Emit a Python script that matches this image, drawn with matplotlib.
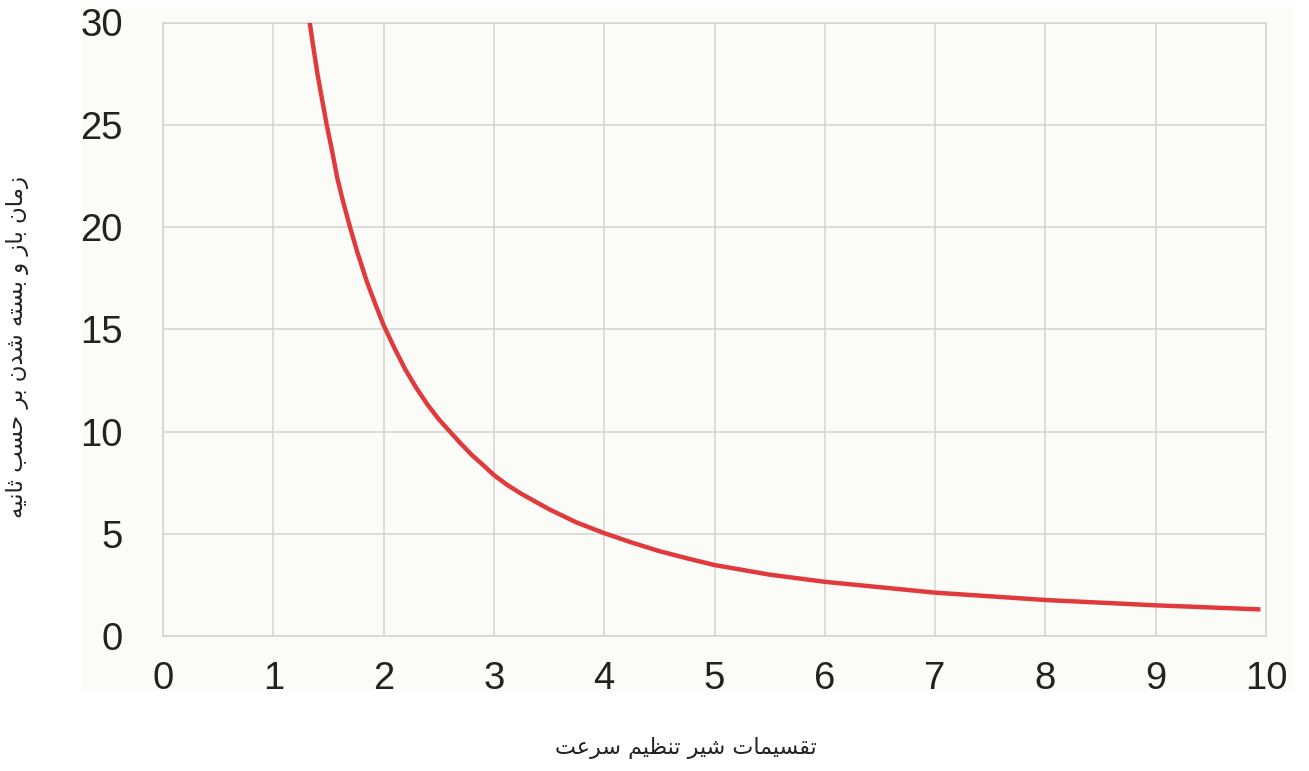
import matplotlib
matplotlib.use("Agg")
import matplotlib.pyplot as plt
from matplotlib.patches import Rectangle

# ---- data ----
x_vals = [1.33, 1.36, 1.40, 1.44, 1.484, 1.53, 1.58, 1.63, 1.695, 1.76, 1.85, 1.92,
          2.0, 2.1, 2.2, 2.3, 2.4, 2.5, 2.6, 2.7, 2.8, 2.9, 3.0, 3.12,
          3.25, 3.5, 3.75, 4.0, 4.25, 4.5, 4.75, 5.0, 5.5, 6.0, 7.0, 8.0, 9.0, 9.95]
y_vals = [30.0, 28.9, 27.5, 26.3, 25.0, 23.8, 22.4, 21.3, 20.0, 18.8, 17.3, 16.3,
          15.2, 14.06, 13.0, 12.1, 11.3, 10.6, 10.0, 9.41, 8.85, 8.37, 7.87, 7.39,
          6.95, 6.2, 5.55, 5.03, 4.57, 4.15, 3.80, 3.47, 3.0, 2.65, 2.12, 1.76, 1.50, 1.30]
x_ticks = [0, 1, 2, 3, 4, 5, 6, 7, 8, 9, 10]
y_ticks = [0, 5, 10, 15, 20, 25, 30]
x_label = "تقسیمات شیر تنظیم سرعت"
y_label = "زمان باز و بسته شدن بر حسب ثانیه"

# ---- minimal Persian shaping (matplotlib has no complex text layout) ----
FORMS = {
    'ا': ('\uFE8D', '\uFE8E', None, None),
    'ب': ('\uFE8F', '\uFE90', '\uFE91', '\uFE92'),
    'ت': ('\uFE95', '\uFE96', '\uFE97', '\uFE98'),
    'ث': ('\uFE99', '\uFE9A', '\uFE9B', '\uFE9C'),
    'ح': ('\uFEA1', '\uFEA2', '\uFEA3', '\uFEA4'),
    'د': ('\uFEA9', '\uFEAA', None, None),
    'ر': ('\uFEAD', '\uFEAE', None, None),
    'ز': ('\uFEAF', '\uFEB0', None, None),
    'س': ('\uFEB1', '\uFEB2', '\uFEB3', '\uFEB4'),
    'ش': ('\uFEB5', '\uFEB6', '\uFEB7', '\uFEB8'),
    'ظ': ('\uFEC5', '\uFEC6', '\uFEC7', '\uFEC8'),
    'ع': ('\uFEC9', '\uFECA', '\uFECB', '\uFECC'),
    'ق': ('\uFED5', '\uFED6', '\uFED7', '\uFED8'),
    'م': ('\uFEE1', '\uFEE2', '\uFEE3', '\uFEE4'),
    'ن': ('\uFEE5', '\uFEE6', '\uFEE7', '\uFEE8'),
    'ه': ('\uFEE9', '\uFEEA', '\uFEEB', '\uFEEC'),
    'و': ('\uFEED', '\uFEEE', None, None),
    'ی': ('\uFBFC', '\uFBFD', '\uFBFE', '\uFBFF'),
}


def shape(text):
    chars = list(text)
    out = []
    for i, c in enumerate(chars):
        if c not in FORMS:
            out.append(c)
            continue
        prev = chars[i - 1] if i > 0 else None
        nxt = chars[i + 1] if i + 1 < len(chars) else None
        jp = prev in FORMS and FORMS[prev][2] is not None
        jn = nxt in FORMS and FORMS[c][2] is not None
        iso, fin, ini, med = FORMS[c]
        if jp and jn:
            out.append(med)
        elif jp:
            out.append(fin)
        elif jn:
            out.append(ini)
        else:
            out.append(iso)
    return ''.join(reversed(out))


W, H = 1309, 771
fig = plt.figure(figsize=(W / 100, H / 100), dpi=100, facecolor='white')

cream = '#fbfbf8'
bg = Rectangle((82 / W, 1 - 691 / H), (1293 - 82) / W, (691 - 7) / H,
               transform=fig.transFigure, facecolor=cream,
               edgecolor='none', zorder=-10)
fig.add_artist(bg)

ax = fig.add_axes([163 / W, 1 - 636 / H, (1266 - 163) / W, (636 - 22.5) / H])
ax.set_zorder(1)
ax.set_facecolor(cream)

ax.plot(x_vals, y_vals, color='#e03a3d', lw=3.2, solid_capstyle='butt',
        solid_joinstyle='round', zorder=3)

ax.set_xlim(0, 10)
ax.set_ylim(0, 30)
ax.set_xticks(x_ticks)
ax.set_yticks(y_ticks)
ax.set_xticklabels([str(t) for t in x_ticks])
ax.set_yticklabels([str(t) for t in y_ticks])
ax.grid(True, color='#d3d3d3', lw=1.1)
ax.set_axisbelow(True)
for s in ax.spines.values():
    s.set_color('#d3d3d3')
    s.set_linewidth(1.1)
ax.tick_params(length=0, labelsize=27.5, colors='#222222')
ax.tick_params(axis='x', pad=18)
ax.tick_params(axis='y', pad=29)
for lab in ax.get_xticklabels() + ax.get_yticklabels():
    lab.set_family(['Liberation Sans', 'DejaVu Sans'])

fig.text(686 / W, 1 - 748 / H, shape(x_label), ha='center', va='center',
         fontsize=16, family='DejaVu Sans', color='#222222')
fig.text(18 / W, 1 - 347 / H, shape(y_label), ha='center', va='center',
         rotation=90, fontsize=16.5, family='DejaVu Sans', color='#222222')

fig.savefig('out.png', dpi=100, facecolor='white')
